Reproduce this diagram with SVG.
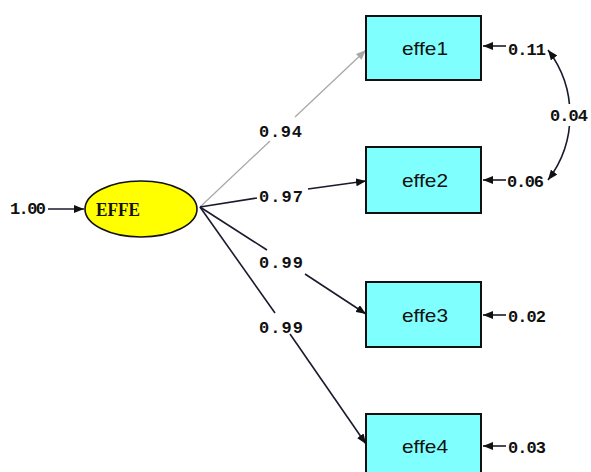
<svg xmlns="http://www.w3.org/2000/svg" width="591" height="472" viewBox="0 0 591 472">
<style>
.box{fill:#80FFFF;stroke:#111;stroke-width:2}
.lbl{font-family:"Liberation Mono",monospace;font-size:17px;fill:#111;font-weight:bold}
.nm{font-family:"Liberation Sans",sans-serif;font-size:19px;fill:#111}
.ln{stroke:#1a1a2e;stroke-width:1.6;fill:none}
.gr{stroke:#a8a8a8;stroke-width:1.3;fill:none}
</style>
<defs>
<marker id="ah" viewBox="0 0 10 8" refX="10" refY="4" markerWidth="10" markerHeight="8" markerUnits="userSpaceOnUse" orient="auto-start-reverse"><path d="M0,0 L10,4 L0,8 z" fill="#111"/></marker>
<marker id="ahg" viewBox="0 0 10 8" refX="10" refY="4" markerWidth="10" markerHeight="8" markerUnits="userSpaceOnUse" orient="auto"><path d="M0,0 L10,4 L0,8 z" fill="#a8a8a8"/></marker>
</defs>
<rect width="591" height="472" fill="#fff"/>
<g id="connectors">
<line class="ln" x1="48" y1="209" x2="84" y2="209" marker-end="url(#ah)"/>
<line class="gr" x1="200" y1="207" x2="270" y2="141"/>
<line class="gr" x1="295" y1="117" x2="366" y2="50" marker-end="url(#ahg)"/>
<line class="ln" x1="200" y1="207" x2="257" y2="198"/>
<line class="ln" x1="308" y1="189" x2="366" y2="181" marker-end="url(#ah)"/>
<line class="ln" x1="200" y1="207" x2="267" y2="250"/>
<line class="ln" x1="305" y1="274" x2="366" y2="314" marker-end="url(#ah)"/>
<line class="ln" x1="200" y1="207" x2="275" y2="313"/>
<line class="ln" x1="290" y1="334" x2="366" y2="444" marker-end="url(#ah)"/>
<line class="ln" x1="506" y1="46" x2="483" y2="46" marker-end="url(#ah)"/>
<line class="ln" x1="506" y1="180" x2="483" y2="180" marker-end="url(#ah)"/>
<line class="ln" x1="506" y1="315" x2="483" y2="315" marker-end="url(#ah)"/>
<line class="ln" x1="506" y1="446" x2="483" y2="446" marker-end="url(#ah)"/>
<path class="ln" d="M548,50 A107,107 0 0 1 548,180" marker-start="url(#ah)" marker-end="url(#ah)"/>
<rect x="553" y="104" width="38" height="22" fill="#fff"/>
</g>
<g id="EFFE">
<ellipse cx="141" cy="209" rx="56" ry="28" fill="#FFFF00" stroke="#111" stroke-width="1.6"/>
<text x="96" y="216" font-family="Liberation Serif,serif" font-weight="bold" font-size="18" fill="#111" textLength="44" lengthAdjust="spacingAndGlyphs">EFFE</text>
</g>
<g id="effe1"><rect class="box" x="366" y="16" width="115" height="64"/><text class="nm" x="402" y="55" textLength="46" lengthAdjust="spacingAndGlyphs">effe1</text></g>
<g id="effe2"><rect class="box" x="366" y="147" width="115" height="66"/><text class="nm" x="402" y="187" textLength="46" lengthAdjust="spacingAndGlyphs">effe2</text></g>
<g id="effe3"><rect class="box" x="366" y="282" width="115" height="65"/><text class="nm" x="402" y="322" textLength="46" lengthAdjust="spacingAndGlyphs">effe3</text></g>
<g id="effe4"><rect class="box" x="366" y="414" width="115" height="64"/><text class="nm" x="402" y="453" textLength="46" lengthAdjust="spacingAndGlyphs">effe4</text></g>
<g id="labels">
<text class="lbl" x="10" y="214" textLength="36">1.00</text>
<text class="lbl" x="259" y="137" textLength="43">0.94</text>
<text class="lbl" x="259" y="202" textLength="44">0.97</text>
<text class="lbl" x="259" y="268" textLength="44">0.99</text>
<text class="lbl" x="259" y="333" textLength="44">0.99</text>
<text class="lbl" x="508" y="55" textLength="38">0.11</text>
<text class="lbl" x="507" y="187" textLength="37">0.06</text>
<text class="lbl" x="508" y="322" textLength="38">0.02</text>
<text class="lbl" x="508" y="453" textLength="38">0.03</text>
<text class="lbl" x="550" y="121" textLength="38">0.04</text>
</g>
</svg>
